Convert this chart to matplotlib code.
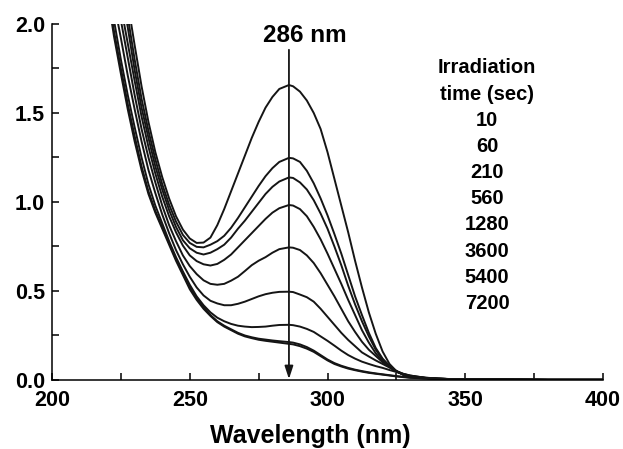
import matplotlib
matplotlib.use("Agg")
import matplotlib.pyplot as plt

plt.rcParams['font.family'] = ['Liberation Sans', 'DejaVu Sans']
plt.rcParams['font.weight'] = 'bold'

# wavelength grid (nm): 2.5 nm steps through the bands, coarser in the flat tail
wl = [220, 222.5, 225, 227.5, 230, 232.5, 235, 237.5, 240, 242.5, 245, 247.5, 250, 252.5, 255,
      257.5, 260, 262.5, 265, 267.5, 270, 272.5, 275, 277.5, 280, 282.5, 286,
      287.5, 290, 292.5, 295, 297.5, 300, 302.5, 305, 307.5, 310, 312.5, 315, 317.5, 320,
      322.5, 325, 327.5, 330,
      335, 340, 345, 350, 360, 370, 380, 390, 400]

# absorbance spectra, strongest 286 nm band first
s1 = [2.60, 2.48, 2.33, 2.12, 1.88, 1.65, 1.45, 1.28, 1.14, 1.02, 0.92, 0.845, 0.795, 0.77, 0.772,
      0.80, 0.87, 0.96, 1.06, 1.16, 1.26, 1.36, 1.45, 1.53, 1.59, 1.635, 1.657,
      1.65, 1.62, 1.57, 1.50, 1.41, 1.28, 1.13, 0.98, 0.83, 0.67, 0.52, 0.38, 0.26, 0.16,
      0.09, 0.05, 0.03, 0.02,
      0.012, 0.007, 0.005, 0.004, 0.003, 0.002, 0.001, 0.001, 0.001]
s2 = [2.50, 2.40, 2.25, 2.04, 1.80, 1.58, 1.40, 1.24, 1.10, 0.985, 0.89, 0.815, 0.77, 0.748, 0.745,
      0.76, 0.78, 0.81, 0.855, 0.91, 0.97, 1.03, 1.09, 1.145, 1.19, 1.225, 1.248,
      1.245, 1.225, 1.175, 1.105, 1.02, 0.925, 0.82, 0.71, 0.59, 0.47, 0.365, 0.265, 0.18, 0.12,
      0.08, 0.05, 0.03, 0.02,
      0.012, 0.007, 0.005, 0.004, 0.003, 0.002, 0.001, 0.001, 0.001]
s3 = [2.45, 2.35, 2.20, 1.98, 1.74, 1.53, 1.36, 1.20, 1.07, 0.955, 0.86, 0.785, 0.74, 0.715, 0.705,
      0.715, 0.735, 0.76, 0.80, 0.85, 0.895, 0.945, 0.995, 1.045, 1.085, 1.115, 1.138,
      1.135, 1.11, 1.07, 1.01, 0.935, 0.85, 0.75, 0.645, 0.53, 0.425, 0.33, 0.245, 0.17, 0.115,
      0.075, 0.048, 0.03, 0.02,
      0.012, 0.007, 0.005, 0.004, 0.003, 0.002, 0.001, 0.001, 0.001]
s4 = [2.40, 2.26, 2.10, 1.89, 1.68, 1.48, 1.31, 1.16, 1.03, 0.92, 0.83, 0.755, 0.70, 0.668, 0.65,
      0.643, 0.652, 0.675, 0.705, 0.745, 0.785, 0.825, 0.865, 0.905, 0.94, 0.965, 0.983,
      0.98, 0.96, 0.92, 0.86, 0.79, 0.71, 0.625, 0.54, 0.45, 0.365, 0.28, 0.21, 0.15, 0.105,
      0.072, 0.047, 0.03, 0.02,
      0.012, 0.007, 0.005, 0.004, 0.003, 0.002, 0.001, 0.001, 0.001]
s5 = [2.35, 2.20, 2.02, 1.81, 1.60, 1.41, 1.25, 1.11, 0.98, 0.87, 0.78, 0.70, 0.64, 0.595, 0.56,
      0.54, 0.535, 0.54, 0.558, 0.58, 0.612, 0.645, 0.67, 0.69, 0.715, 0.735, 0.745,
      0.743, 0.73, 0.70, 0.657, 0.60, 0.535, 0.47, 0.40, 0.33, 0.27, 0.215, 0.17, 0.135, 0.10,
      0.075, 0.05, 0.033, 0.022,
      0.012, 0.007, 0.005, 0.004, 0.003, 0.002, 0.001, 0.001, 0.001]
s6 = [2.30, 2.12, 1.92, 1.71, 1.52, 1.34, 1.18, 1.05, 0.93, 0.825, 0.73, 0.65, 0.58, 0.52, 0.475,
      0.445, 0.43, 0.42, 0.42, 0.428, 0.44, 0.455, 0.47, 0.482, 0.49, 0.495, 0.496,
      0.494, 0.48, 0.465, 0.44, 0.40, 0.355, 0.31, 0.265, 0.225, 0.19, 0.155, 0.132, 0.11, 0.09,
      0.07, 0.05, 0.035, 0.025,
      0.013, 0.008, 0.005, 0.004, 0.003, 0.002, 0.001, 0.001, 0.001]
s7 = [2.25, 2.02, 1.80, 1.60, 1.42, 1.25, 1.10, 0.98, 0.88, 0.78, 0.69, 0.61, 0.535, 0.47, 0.42,
      0.38, 0.35, 0.33, 0.315, 0.305, 0.30, 0.297, 0.298, 0.30, 0.305, 0.309, 0.31,
      0.308, 0.30, 0.287, 0.27, 0.245, 0.22, 0.193, 0.165, 0.14, 0.12, 0.103, 0.09, 0.078, 0.068,
      0.056, 0.045, 0.034, 0.025,
      0.014, 0.008, 0.005, 0.004, 0.003, 0.002, 0.001, 0.001, 0.001]
s8 = [2.20, 1.96, 1.75, 1.55, 1.37, 1.20, 1.06, 0.95, 0.86, 0.77, 0.68, 0.60, 0.52, 0.46, 0.41,
      0.365, 0.33, 0.305, 0.285, 0.265, 0.25, 0.24, 0.232, 0.227, 0.222, 0.218, 0.213,
      0.21, 0.20, 0.185, 0.165, 0.14, 0.115, 0.095, 0.08, 0.068, 0.058, 0.05, 0.043, 0.037, 0.032,
      0.027, 0.022, 0.018, 0.014,
      0.009, 0.006, 0.004, 0.003, 0.002, 0.002, 0.001, 0.001, 0.001]
s9 = [2.18, 1.93, 1.72, 1.52, 1.34, 1.18, 1.045, 0.94, 0.85, 0.76, 0.67, 0.59, 0.51, 0.45, 0.40,
      0.36, 0.325, 0.30, 0.28, 0.26, 0.245, 0.235, 0.226, 0.22, 0.215, 0.21, 0.203,
      0.20, 0.19, 0.176, 0.158, 0.134, 0.11, 0.09, 0.076, 0.064, 0.055, 0.047, 0.04, 0.035, 0.03,
      0.025, 0.02, 0.016, 0.012,
      0.009, 0.006, 0.004, 0.003, 0.002, 0.002, 0.001, 0.001, 0.001]

times = ['10', '60', '210', '560', '1280', '3600', '5400', '7200']

fig = plt.figure(figsize=(6.23, 4.49), dpi=100)
ax = fig.add_axes([0.0835, 0.1537, 0.8844, 0.7929])

for s in [s1, s2, s3, s4, s5, s6, s7, s8, s9]:
    ax.plot(wl, s, color='#151515', linewidth=1.4, solid_joinstyle='round')

ax.set_xlim(200, 400)
ax.set_ylim(0, 2.0)
ax.set_xticks([200, 250, 300, 350, 400])
ax.set_xticks([225, 275, 325, 375], minor=True)
ax.set_yticks([0.0, 0.5, 1.0, 1.5, 2.0])
ax.set_yticklabels(['0.0', '0.5', '1.0', '1.5', '2.0'])
ax.set_yticks([0.25, 0.75, 1.25, 1.75], minor=True)
ax.tick_params(which='both', direction='in', length=5, width=1.1, labelsize=15.5)
ax.tick_params(axis='x', which='major', pad=7)
ax.tick_params(axis='y', which='major', pad=5)
for side in ['top', 'right']:
    ax.spines[side].set_visible(False)
for side in ['left', 'bottom']:
    ax.spines[side].set_linewidth(1.1)

ax.set_xlabel('Wavelength (nm)', fontsize=18, fontweight='bold', va='baseline')
ax.xaxis.set_label_coords(0.468, -0.176)

# arrow marking the 286 nm band decreasing with irradiation
ax.annotate('', xy=(286, 0.005), xytext=(286, 1.855),
            arrowprops=dict(arrowstyle='-|>,head_length=0.55,head_width=0.18',
                            mutation_scale=14, color='#151515', lw=1.3,
                            shrinkA=0, shrinkB=0))
ax.text(291.8, 1.935, '286 nm', fontsize=17.5, ha='center', va='center', clip_on=False)

legend_lines = ['Irradiation', 'time (sec)'] + times
for i, line in enumerate(legend_lines):
    ax.text(357.9, 1.753 - i * 0.147, line, fontsize=14.5, ha='center', va='center')

fig.savefig('out.png', dpi=100)
